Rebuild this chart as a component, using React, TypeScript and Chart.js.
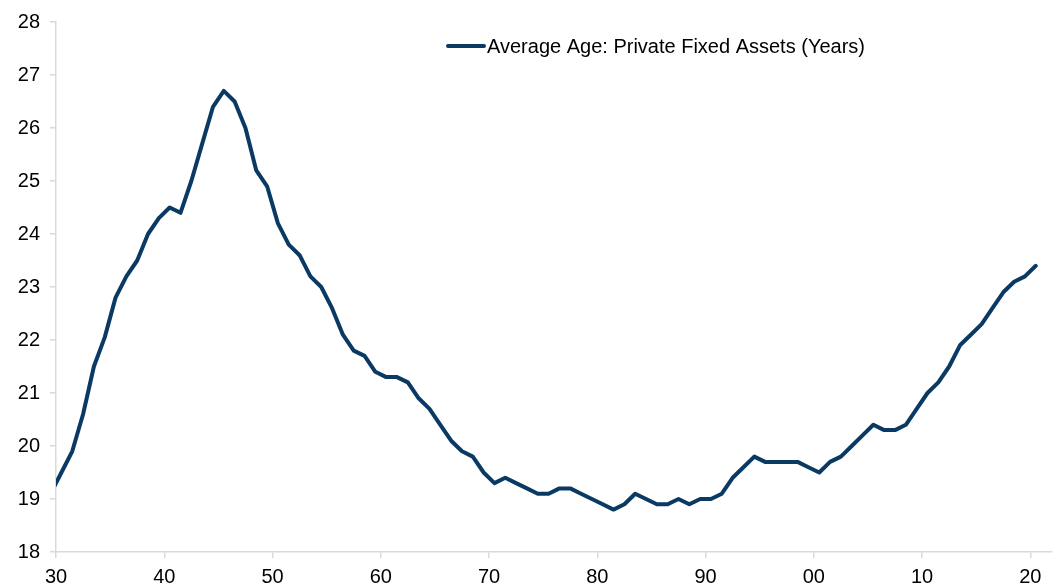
import React, { useEffect, useRef } from "react";
import { Chart, registerables } from "chart.js";

Chart.register(...registerables);

const seriesLabel = "Average Age: Private Fixed Assets (Years)";
const firstYear = 1929;
const ageValues = [
  19.1, // 1929
  19.5, 19.9, 20.6, 21.5, 22.05, 22.8, 23.2, 23.5, 24.0, 24.3, // 1930-1939
  24.5, 24.4, 25.0, 25.7, 26.4, 26.7, 26.5, 26.0, 25.2, 24.9, // 1940-1949
  24.2, 23.8, 23.6, 23.2, 23.0, 22.6, 22.1, 21.8, 21.7, 21.4, // 1950-1959
  21.3, 21.3, 21.2, 20.9, 20.7, 20.4, 20.1, 19.9, 19.8, 19.5, // 1960-1969
  19.3, 19.4, 19.3, 19.2, 19.1, 19.1, 19.2, 19.2, 19.1, 19.0, // 1970-1979
  18.9, 18.8, 18.9, 19.1, 19.0, 18.9, 18.9, 19.0, 18.9, 19.0, // 1980-1989
  19.0, 19.1, 19.4, 19.6, 19.8, 19.7, 19.7, 19.7, 19.7, 19.6, // 1990-1999
  19.5, 19.7, 19.8, 20.0, 20.2, 20.4, 20.3, 20.3, 20.4, 20.7, // 2000-2009
  21.0, 21.2, 21.5, 21.9, 22.1, 22.3, 22.6, 22.9, 23.1, 23.2, // 2010-2019
  23.4, // 2020
];
const years = ageValues.map((_, i) => firstYear + i);
const xMin = 1930;
const xMax = 2022;
const lastTickYear = 2020;
const yMin = 18;
const yMax = 28;

const LINE_COLOR = "#0a3a64";
const AXIS_COLOR = "#d9d9d9";
const FONT_FAMILY = "'Liberation Sans', Arial, sans-serif";
const FONT_SIZE = 20;

const legendPlugin = {
  id: "customLegend",
  afterDraw(chart: any) {
    const ctx = chart.ctx;
    const ds = chart.data.datasets[0];
    const x0 = 448;
    const y0 = 46;
    ctx.save();
    ctx.strokeStyle = ds.borderColor;
    ctx.lineWidth = 4;
    ctx.lineCap = "round";
    ctx.beginPath();
    ctx.moveTo(x0, y0);
    ctx.lineTo(x0 + 36, y0);
    ctx.stroke();
    ctx.fillStyle = "#000";
    ctx.font = `${FONT_SIZE}px ${FONT_FAMILY}`;
    ctx.textBaseline = "middle";
    ctx.textAlign = "left";
    ctx.fillText(ds.label, x0 + 39, y0 + 1);
    ctx.restore();
  },
};

export default function App() {
  const ref = useRef<HTMLCanvasElement | null>(null);

  useEffect(() => {
    document.body.style.margin = "0";
    if (!ref.current) return;
    const chart = new Chart(ref.current, {
      type: "line",
      data: {
        datasets: [
          {
            label: seriesLabel,
            data: years.map((y, i) => ({ x: y + 0.5, y: ageValues[i] })),
            borderColor: LINE_COLOR,
            borderWidth: 4,
            pointRadius: 0,
            tension: 0,
            fill: false,
            borderJoinStyle: "round",
            borderCapStyle: "round",
          },
        ],
      },
      options: {
        animation: false,
        responsive: false,
        maintainAspectRatio: false,
        layout: { padding: { top: 19, right: 1, left: 0, bottom: 0 } },
        plugins: {
          legend: { display: false },
          tooltip: { enabled: false },
        },
        scales: {
          x: {
            type: "linear",
            min: xMin,
            max: xMax,
            afterFit: (s: any) => {
              s.height = 34;
            },
            border: { color: AXIS_COLOR, width: 1.5 },
            grid: {
              drawOnChartArea: false,
              drawTicks: true,
              tickLength: 6,
              color: AXIS_COLOR,
              lineWidth: 1.5,
            },
            ticks: {
              stepSize: 10,
              includeBounds: false,
              maxRotation: 0,
              autoSkip: false,
              padding: 7,
              color: "#000",
              font: { family: FONT_FAMILY, size: FONT_SIZE },
              callback: (v: any) => {
                const n = Number(v);
                if (n % 10 !== 0 || n > lastTickYear) return "";
                return String(n % 100).padStart(2, "0");
              },
            },
          },
          y: {
            min: yMin,
            max: yMax,
            afterFit: (s: any) => {
              s.width = 56;
            },
            border: { color: AXIS_COLOR, width: 1.5 },
            grid: {
              drawOnChartArea: false,
              drawTicks: true,
              tickLength: 6,
              color: AXIS_COLOR,
              lineWidth: 1.5,
            },
            ticks: {
              stepSize: 1,
              padding: 10,
              color: "#000",
              font: { family: FONT_FAMILY, size: FONT_SIZE },
            },
          },
        },
      },
      plugins: [legendPlugin],
    });
    return () => chart.destroy();
  }, []);

  return (
    <div style={{ position: "absolute", left: 0, top: 0, width: 1053, height: 586, background: "#fff" }}>
      <canvas ref={ref} width={1053} height={586} style={{ width: 1053, height: 586 }} />
    </div>
  );
}
